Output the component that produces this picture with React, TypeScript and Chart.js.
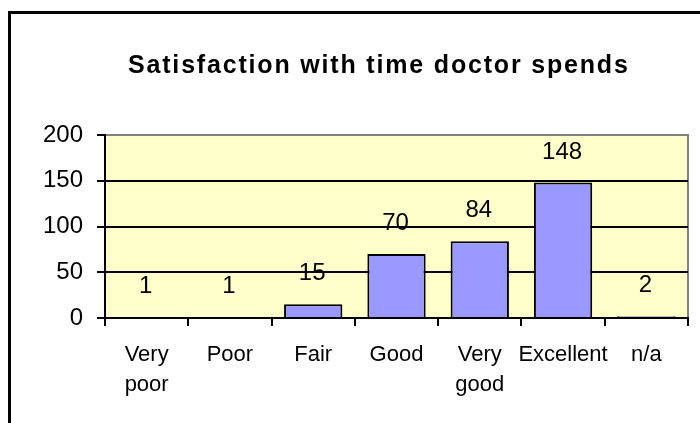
import React, { useEffect, useRef } from "react";
import { Chart, registerables } from "chart.js";

Chart.register(...registerables);

const categories: (string | string[])[] = [["Very", "poor"], "Poor", "Fair", "Good", ["Very", "good"], "Excellent", "n/a"];
const counts = [1, 1, 15, 70, 84, 148, 2];
const yMin = 0;
const yMax = 200;
const yStep = 50;
const titleText = "Satisfaction with time doctor spends";

const FONT = "'Liberation Sans', Arial, sans-serif";

export default function App() {
  const ref = useRef<HTMLCanvasElement>(null);

  useEffect(() => {
    const canvas = ref.current;
    if (!canvas) return;

    const framePlugin = {
      id: "frame",
      beforeDraw(chart: any) {
        const { ctx, chartArea: a } = chart;
        ctx.save();
        ctx.fillStyle = "#ffffff";
        ctx.fillRect(0, 0, chart.width, chart.height);
        ctx.fillStyle = "#FFFFCC";
        ctx.fillRect(a.left, a.top, a.right - a.left, a.bottom - a.top);
        // outer frame (left and top edges visible)
        ctx.fillStyle = "#000000";
        ctx.fillRect(8, 11, 3, chart.height - 11);
        ctx.fillRect(8, 11, chart.width - 8, 3);
        // plot area right border
        ctx.fillStyle = "#808080";
        ctx.fillRect(a.right - 1, a.top - 1, 2, a.bottom - a.top + 1);
        ctx.restore();
      },
      afterDatasetsDraw(chart: any) {
        const { ctx } = chart;
        const meta = chart.getDatasetMeta(0);
        ctx.save();
        ctx.fillStyle = "#000000";
        ctx.font = `24px ${FONT}`;
        ctx.textAlign = "center";
        ctx.textBaseline = "alphabetic";
        meta.data.forEach((bar: any, i: number) => {
          ctx.fillText(String(counts[i]), bar.x - 1, bar.y - 24);
        });
        ctx.restore();
      },
      afterDraw(chart: any) {
        const { ctx } = chart;
        ctx.save();
        ctx.fillStyle = "#000000";
        ctx.font = `bold 25px ${FONT}`;
        const plain = ctx.measureText(titleText).width;
        const ls = Math.max(0, (500 - plain) / (titleText.length - 1));
        (ctx as any).letterSpacing = `${ls.toFixed(2)}px`;
        ctx.textAlign = "left";
        ctx.textBaseline = "alphabetic";
        ctx.fillText(titleText, 128, 73);
        ctx.restore();
      },
    };

    const chart = new Chart(canvas, {
      type: "bar",
      data: {
        labels: categories as any,
        datasets: [
          {
            data: counts,
            backgroundColor: "#9999FF",
            borderColor: "#000000",
            borderWidth: 2,
            borderSkipped: "bottom",
            barPercentage: 0.7,
            categoryPercentage: 1,
          },
        ],
      },
      options: {
        responsive: false,
        animation: false,
        devicePixelRatio: 1,
        layout: { padding: { top: 135, right: 12, left: 0, bottom: 0 } },
        plugins: {
          legend: { display: false },
          title: { display: false },
          tooltip: { enabled: false },
        },
        scales: {
          x: {
            offset: true,
            grid: {
              offset: true,
              drawOnChartArea: false,
              drawTicks: true,
              tickLength: 8,
              color: "#000000",
              lineWidth: 2,
            },
            border: { color: "#000000", width: 2 },
            ticks: {
              color: "#000000",
              font: { family: FONT, size: 22, lineHeight: 1.35 },
              padding: 14,
              maxRotation: 0,
              autoSkip: false,
            },
            afterFit(scale: any) {
              scale.height = 105;
            },
          },
          y: {
            min: yMin,
            max: yMax,
            grid: {
              color: (c: any) => (c.tick && c.tick.value === yMax ? "#808080" : "#000000"),
              tickColor: "#000000",
              lineWidth: 2,
              tickLength: 8,
            },
            border: { color: "#000000", width: 2 },
            ticks: {
              stepSize: yStep,
              color: "#000000",
              font: { family: FONT, size: 24 },
              padding: 14,
            },
            afterFit(scale: any) {
              scale.width = 105;
            },
          },
        },
      },
      plugins: [framePlugin],
    });

    return () => chart.destroy();
  }, []);

  return (
    <div style={{ position: "fixed", left: 0, top: 0, width: 700, height: 423, background: "#ffffff", overflow: "hidden" }}>
      <canvas ref={ref} width={700} height={423} style={{ display: "block", width: 700, height: 423 }} />
    </div>
  );
}
